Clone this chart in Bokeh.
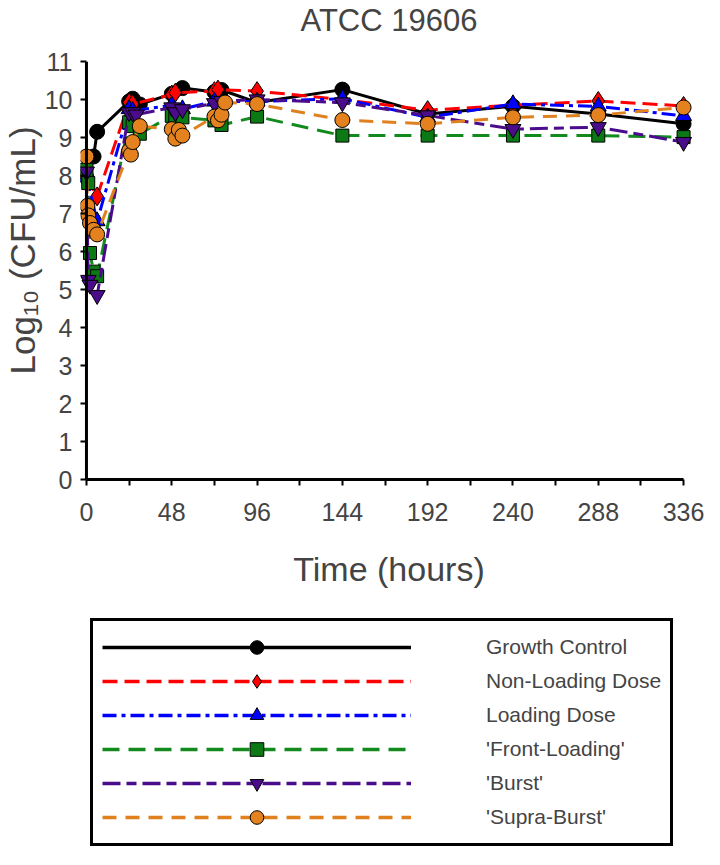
from bokeh.plotting import figure
from bokeh.layouts import column
from bokeh.models import Range1d, FixedTicker, Span, Legend, LegendItem, Title
from bokeh.embed import file_html
from bokeh.resources import INLINE

# ---------------- data ----------------
t_gc = [0, 4, 6, 24, 26, 30, 48, 54, 72, 76, 96, 144, 192, 240, 288, 336]
gc   = [7.95, 8.5, 9.15, 9.95, 10.02, 9.87, 10.15, 10.3, 10.2, 10.25, 9.92, 10.26, 9.62, 9.82, 9.62, 9.36]

t_nl = [0, 6, 24, 26, 48, 50, 72, 74, 96, 144, 192, 240, 288, 336]
nl   = [7.95, 7.45, 9.92, 9.88, 10.13, 10.18, 10.22, 10.26, 10.22, 10.0, 9.72, 9.85, 9.96, 9.83]

t_ld = [0, 6, 24, 26, 48, 54, 72, 96, 144, 192, 240, 288, 336]
ld   = [7.95, 6.8, 9.75, 9.7, 9.85, 9.75, 9.95, 9.95, 10.02, 9.53, 9.88, 9.82, 9.57]

t_fl = [0, 1, 2, 4, 6, 24, 26, 30, 48, 50, 54, 72, 76, 96, 144, 192, 240, 288, 336]
fl   = [8.15, 7.8, 5.96, 5.47, 5.35, 9.4, 9.3, 9.1, 9.57, 9.49, 9.53, 9.45, 9.33, 9.55, 9.05, 9.05, 9.05, 9.05, 9.01]

t_bu = [0, 1, 2, 6, 24, 26, 28, 48, 50, 54, 72, 76, 96, 144, 192, 240, 288, 336]
bu   = [8.1, 5.25, 5.12, 4.85, 9.66, 9.66, 9.6, 9.79, 9.66, 9.74, 9.9, 9.96, 10.0, 9.92, 9.58, 9.22, 9.27, 8.88]

t_sb = [0, 0.5, 1, 2, 4, 6, 24, 25, 26, 30, 48, 50, 52, 54, 72, 74, 76, 78, 96, 144, 192, 240, 288, 336]
sb   = [8.5, 7.2, 6.95, 6.75, 6.57, 6.45, 8.65, 8.55, 8.88, 9.3, 9.22, 8.97, 9.2, 9.05, 9.55, 9.45, 9.6, 9.92, 9.88, 9.46, 9.36, 9.53, 9.59, 9.79]

labels = ["Growth Control", "Non-Loading Dose", "Loading Dose",
          "'Front-Loading'", "'Burst'", "'Supra-Burst'"]
x_major = [0, 48, 96, 144, 192, 240, 288, 336]
x_minor = [24, 72, 120, 168, 216, 264, 312]
y_ticks = list(range(0, 12))

# ---------------- styles ----------------
series = [
    (t_gc, gc, "#000000", "#000000", "solid", "circle", 15),
    (t_nl, nl, "#FF0000", "#FF0000", "15 7", "diamond", 19),
    (t_ld, ld, "#0000FF", "#0000FF", "14 5 4 5", "triangle", 16),
    (t_fl, fl, "#138A1E", "#0B7A14", "17 9", "square", 13),
    (t_bu, bu, "#4B0C8C", "#4B0C8C", "18 6 10 6", "inverted_triangle", 16),
    (t_sb, sb, "#E0801E", "#E3821E", "14 9", "circle", 15),
]

FONT = "Liberation Sans"
W = 704
TOP, FRAME_H, BOTTOM = 57, 422, 125
LEFT, RIGHT = 77, 7
GAP = 6                              # px between frame edge and the x = 0 axis line
frame_w = W - LEFT - RIGHT
AXIS_PX = 600                        # px from 0 h to 336 h
PX_PER_H = AXIS_PX / 336.0
x_start = -GAP / PX_PER_H
x_end = 336 + (frame_w - GAP - AXIS_PX) / PX_PER_H

p = figure(width=W, height=TOP + FRAME_H + BOTTOM, output_backend="svg",
           toolbar_location=None,
           x_range=Range1d(x_start, x_end), y_range=Range1d(0, 11),
           min_border_left=LEFT, min_border_right=RIGHT, min_border_top=TOP,
           min_border_bottom=BOTTOM)
p.outline_line_color = None
p.grid.visible = False
p.background_fill_color = "white"
p.border_fill_color = "white"

# blank spacer next to the frame, then the title on top of it
p.add_layout(Title(text=" ", text_font=FONT, text_font_size="14px", standoff=6), "above")
p.add_layout(Title(text="ATCC 19606", text_font=FONT, text_font_size="31px",
                   text_font_style="normal", align="center", standoff=0), "above")

# y-axis line drawn at x = 0
p.add_layout(Span(location=0, dimension="height", line_color="black", line_width=3))

ya = p.yaxis[0]
ya.ticker = FixedTicker(ticks=y_ticks)
ya.axis_line_color = None
ya.major_tick_out = 0
ya.major_tick_in = GAP
ya.major_tick_line_width = 2
ya.minor_tick_line_color = None
ya.major_label_text_font = FONT
ya.major_label_text_font_size = "25px"
ya.major_label_standoff = 8

p.add_layout(Title(text="Log\u2081\u2080 (CFU/mL)", text_font=FONT, text_font_size="35px",
                   text_font_style="normal", align="left", offset=105, standoff=0), "left")

xa = p.xaxis[0]
xa.ticker = FixedTicker(ticks=x_major, minor_ticks=x_minor)
xa.bounds = (0, 336)
xa.axis_line_width = 3
xa.major_tick_out = 6
xa.major_tick_in = 0
xa.minor_tick_out = 6
xa.minor_tick_in = 0
xa.major_tick_line_width = 2
xa.minor_tick_line_width = 2
xa.major_label_text_font = FONT
xa.major_label_text_font_size = "25px"
xa.major_label_standoff = 17
xa.axis_label = "Time (hours)"
xa.axis_label_text_font = FONT
xa.axis_label_text_font_size = "34px"
xa.axis_label_text_font_style = "normal"
xa.axis_label_standoff = 26

for (tt, vv, lc, fc, dash, mk, sz) in series:
    p.line(tt, vv, line_color=lc, line_width=3, line_dash=dash)
    p.scatter(tt, vv, marker=mk, size=sz, fill_color=fc,
              line_color="black", line_width=1)

# ---------------- legend panel (separate figure below the chart) ----------------
# its frame is aligned with the chart frame by the column layout
H2 = 849 - (TOP + FRAME_H + BOTTOM)
p2 = figure(width=W, height=H2, output_backend="svg", toolbar_location=None,
            x_range=Range1d(-2, -1), y_range=Range1d(-2, -1),
            x_axis_location=None, y_axis_location=None,
            min_border_left=LEFT, min_border_right=RIGHT,
            min_border_top=0, min_border_bottom=0)
p2.outline_line_color = None
p2.grid.visible = False
p2.background_fill_color = "white"
p2.border_fill_color = "white"

items = []
for (tt, vv, lc, fc, dash, mk, sz), lab in zip(series, labels):
    # same series, outside this panel's ranges: only the legend swatches show
    lr = p2.line(tt, vv, line_color=lc, line_width=3.5, line_dash=dash)
    sr = p2.scatter(tt, vv, marker=mk, size=sz, fill_color=fc,
                    line_color="black", line_width=1)
    items.append(LegendItem(label=lab, renderers=[lr, sr]))

legend = Legend(items=items, location=(10, 3))
legend.glyph_width = 309
legend.glyph_height = 34
legend.label_height = 34
legend.spacing = 0
legend.padding = 9
legend.margin = 0
legend.label_standoff = 75
legend.label_text_font = FONT
legend.label_text_font_size = "21px"
legend.border_line_color = "black"
legend.border_line_alpha = 1
legend.border_line_width = 3
legend.background_fill_color = "white"
legend.background_fill_alpha = 1
p2.add_layout(legend, "center")

layout = column(p, p2, spacing=0)
open("out.html", "w").write(file_html(layout, INLINE))
